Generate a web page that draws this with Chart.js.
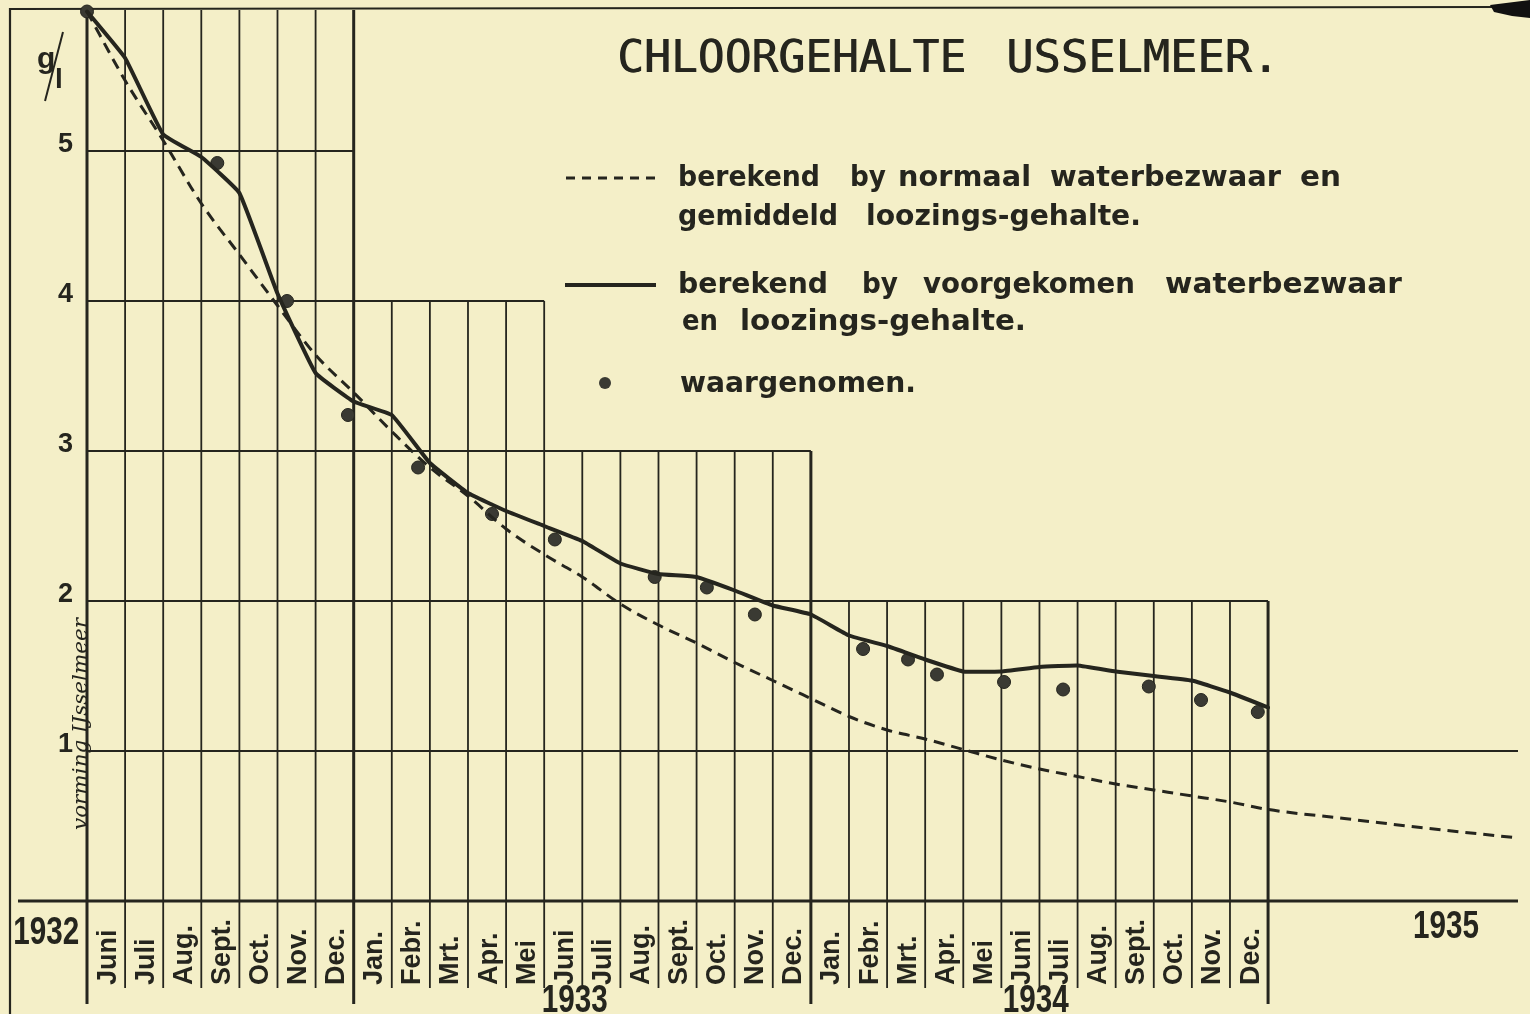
<!DOCTYPE html>
<html>
<head>
<meta charset="utf-8">
<script src="https://cdn.jsdelivr.net/npm/chart.js@4/dist/chart.umd.min.js"></script>
<style>
  html, body { margin: 0; padding: 0; background: #f4efc8; }
  #wrap { width: 1530px; height: 1014px; position: relative; }
  canvas { display: block; }
</style>
</head>
<body>
<div id="wrap"><canvas id="c" width="1530" height="1014"></canvas></div>
<script>
// ---------------- DATA ----------------
const monthLabels = ['Juni','Juli','Aug.','Sept.','Oct.','Nov.','Dec.',
  'Jan.','Febr.','Mrt.','Apr.','Mei','Juni','Juli','Aug.','Sept.','Oct.','Nov.','Dec.',
  'Jan.','Febr.','Mrt.','Apr.','Mei','Juni','Juli','Aug.','Sept.','Oct.','Nov.','Dec.'];
// month columns start at these x-values (0 = begin Juni 1932)
const monthStarts = [0,1,2,3,4,5,6,7,8,9,10,11,12,13,14,15,16,17,18,19,20,21,22,23,24,25,26,27,28,29,30];
const yearLabels = ['1932','1933','1934','1935'];
const yearPositions = [-1.07, 12.8, 24.9, 35.67];
const yTickLabels = ['1','2','3','4','5'];

// berekend by voorgekomen waterbezwaar en loozings-gehalte (solid)
const actualMonths = [0,1,2,3,4,5,6,7,8,9,10,11,12,13,14,15,16,17,18,19,20,21,22,23,24,25,26,27,28,29,30,31];
const actualValues = [5.93,5.62,5.11,4.96,4.72,4.05,3.52,3.33,3.24,2.92,2.72,2.60,2.50,2.40,2.25,2.18,2.16,2.07,1.97,1.91,
  1.77,1.70,1.61,1.53,1.53,1.56,1.57,1.53,1.50,1.47,1.39,1.29];

// berekend by normaal waterbezwaar en gemiddeld loozings-gehalte (dashed)
const normalMonths = [0,1,2,3,4,5,6,7,8,9,10,11,12,13,14,15,16,17,18,19,20,21,22,23,24,25,26,27,28,29,30,31,33,35,37.56];
const normalValues = [5.93,5.47,5.07,4.65,4.31,3.97,3.64,3.39,3.13,2.89,2.70,2.48,2.31,2.16,1.98,1.84,1.72,1.59,1.47,1.35,
  1.23,1.14,1.08,1.01,0.94,0.88,0.83,0.78,0.74,0.70,0.66,0.61,0.55,0.49,0.42];

// waargenomen (dots)
const observedMonths = [0,3.42,5.25,6.85,8.69,10.63,12.28,14.9,16.27,17.53,20.37,21.55,22.31,24.07,25.62,27.87,29.24,30.73];
const observedValues = [5.93,4.92,4.00,3.24,2.89,2.58,2.41,2.16,2.09,1.91,1.68,1.61,1.51,1.46,1.41,1.43,1.34,1.26];

// stepped grid: horizontal level and the month where it ends
const gridLevels = [5,4,3,2,1];
const gridLevelEnds = [7,12,19,31,37.56];
const yearBoundaries = [0,7,19,31];

const legendItems = [
  { kind: 'dash', lines: [
      [['berekend',678,820],['by',850,886],['normaal',898,1031],['waterbezwaar',1050,1281],['en',1300,1341]],
      [['gemiddeld',678,838],['loozings-gehalte.',866,1141]] ] },
  { kind: 'solid', lines: [
      [['berekend',678,828],['by',862,898],['voorgekomen',923,1135],['waterbezwaar',1165,1402]],
      [['en',682,718],['loozings-gehalte.',740,1026]] ] },
  { kind: 'dot', lines: [ [['waargenomen.',680,916]] ] }
];

// ---------------- STYLE ----------------
const INK = '#25251e';
const PAPER = '#f4efc8';
const XMAX = 37.56, YMAX = 5.94;

function fitText(ctx, text, x0, x1, baseline, font) {
  ctx.save();
  ctx.font = font;
  const w = ctx.measureText(text).width;
  const s = (x1 - x0) / w;
  ctx.translate(x0, baseline);
  ctx.scale(s, 1);
  ctx.textAlign = 'left';
  ctx.textBaseline = 'alphabetic';
  ctx.fillText(text, 0, 0);
  ctx.restore();
}

const paperPlugin = {
  id: 'paper',
  beforeDraw(chart) {
    const ctx = chart.ctx;
    ctx.save();
    ctx.fillStyle = PAPER;
    ctx.fillRect(0, 0, chart.width, chart.height);
    ctx.restore();
  },
  beforeDatasetsDraw(chart) {
    const ctx = chart.ctx;
    const xs = chart.scales.x, ys = chart.scales.y;
    const X = v => xs.getPixelForValue(v);
    const Y = v => ys.getPixelForValue(v);
    ctx.save();
    ctx.strokeStyle = INK;
    ctx.lineCap = 'butt';
    // outer frame (scan border)
    ctx.lineWidth = 2.2;
    ctx.beginPath();
    ctx.moveTo(10, 1014); ctx.lineTo(10, 9); ctx.lineTo(1495, 7);
    ctx.stroke();
    ctx.fillStyle = '#111';
    ctx.beginPath();
    ctx.moveTo(1490, 5); ctx.lineTo(1530, 0); ctx.lineTo(1530, 18); ctx.lineTo(1512, 16); ctx.lineTo(1494, 12);
    ctx.closePath(); ctx.fill();

    // horizontal levels
    ctx.lineWidth = 2;
    gridLevels.forEach((lv, i) => {
      ctx.beginPath();
      ctx.moveTo(X(0), Y(lv)); ctx.lineTo(X(gridLevelEnds[i]), Y(lv));
      ctx.stroke();
    });
    // zero line
    ctx.lineWidth = 3;
    ctx.beginPath();
    ctx.moveTo(18, Y(0)); ctx.lineTo(X(XMAX), Y(0));
    ctx.stroke();

    // vertical month boundaries
    for (let k = 0; k <= 31; k++) {
      let top = YMAX;
      for (let i = 1; i < gridLevels.length; i++) {
        if (k > gridLevelEnds[i - 1] && k <= gridLevelEnds[i]) { top = gridLevels[i]; break; }
      }
      const isYear = yearBoundaries.includes(k);
      ctx.lineWidth = isYear ? 3 : 1.8;
      ctx.beginPath();
      ctx.moveTo(X(k), Y(top));
      ctx.lineTo(X(k), isYear ? 1004 : 988);
      ctx.stroke();
    }
    ctx.restore();
  },
  afterDraw(chart) {
    const ctx = chart.ctx;
    const xs = chart.scales.x;
    ctx.save();
    ctx.fillStyle = INK;
    ctx.strokeStyle = INK;

    // title
    fitText(ctx, 'CHLOORGEHALTE', 617, 966, 72, '44px "DejaVu Sans Mono"');
    fitText(ctx, 'USSELMEER.', 1006, 1279, 72, '44px "DejaVu Sans Mono"');
    // second pass slightly offset to thicken strokes like the lettering pen
    fitText(ctx, 'CHLOORGEHALTE', 617.8, 966.8, 72, '44px "DejaVu Sans Mono"');
    fitText(ctx, 'USSELMEER.', 1006.8, 1279.8, 72, '44px "DejaVu Sans Mono"');

    // legend
    const baselines = [[186, 225], [293, 330], [392]];
    legendItems.forEach((item, idx) => {
      item.lines.forEach((ln, li) => {
        ln.forEach(([w, a, b]) => fitText(ctx, w, a, b, baselines[idx][li], 'bold 29px "DejaVu Sans"'));
      });
    });
    // legend symbols
    ctx.lineWidth = 3;
    ctx.setLineDash([9, 7]);
    ctx.beginPath(); ctx.moveTo(566, 178); ctx.lineTo(656, 178); ctx.stroke();
    ctx.setLineDash([]);
    ctx.lineWidth = 4;
    ctx.beginPath(); ctx.moveTo(565, 285); ctx.lineTo(656, 285); ctx.stroke();
    ctx.fillStyle = '#3a3a33';
    ctx.beginPath(); ctx.arc(605, 383, 6, 0, Math.PI * 2); ctx.fill();
    ctx.fillStyle = INK;

    // month labels (rotated, reading upward)
    ctx.font = 'bold 27px "Liberation Sans"';
    ctx.textAlign = 'left';
    ctx.textBaseline = 'alphabetic';
    monthLabels.forEach((lab, i) => {
      const x = xs.getPixelForValue(monthStarts[i] + 0.5);
      ctx.save();
      ctx.translate(x + 9.5, 985);
      ctx.rotate(-Math.PI / 2);
      ctx.fillText(lab, 0, 0);
      ctx.restore();
    });

    // year labels
    const yearY = [944, 1012, 1012, 938];
    yearLabels.forEach((lab, i) => {
      const x = xs.getPixelForValue(yearPositions[i]);
      ctx.save();
      ctx.font = 'bold 38px "Liberation Sans"';
      const w = ctx.measureText(lab).width;
      ctx.translate(x, yearY[i]);
      ctx.scale(0.78, 1);
      ctx.fillText(lab, -w / 2, 0);
      ctx.restore();
    });

    // g/l unit
    ctx.font = 'bold 30px "Liberation Sans"';
    ctx.fillText('g', 37, 68);
    ctx.font = 'bold 28px "Liberation Sans"';
    ctx.fillText('l', 55, 88);
    ctx.lineWidth = 2;
    ctx.beginPath(); ctx.moveTo(45, 101); ctx.lineTo(63, 32); ctx.stroke();

    // vertical handwritten note
    ctx.save();
    ctx.font = 'italic 20px "DejaVu Serif"';
    const note = 'vorming IJsselmeer';
    const nw = ctx.measureText(note).width;
    ctx.translate(87, 830);
    ctx.rotate(-Math.PI / 2);
    ctx.scale(212 / nw, 1);
    ctx.fillText(note, 0, 0);
    ctx.restore();

    ctx.restore();
  }
};

const pts = (xsArr, ysArr) => xsArr.map((m, i) => ({ x: m, y: ysArr[i] }));

new Chart(document.getElementById('c').getContext('2d'), {
  type: 'line',
  data: {
    datasets: [
      {
        label: 'berekend by normaal waterbezwaar en gemiddeld loozings-gehalte.',
        data: pts(normalMonths, normalValues),
        borderColor: INK, borderWidth: 3, borderDash: [11, 7],
        pointRadius: 0, cubicInterpolationMode: 'monotone', clip: false
      },
      {
        label: 'berekend by voorgekomen waterbezwaar en loozings-gehalte.',
        data: pts(actualMonths, actualValues),
        borderColor: INK, borderWidth: 4, borderJoinStyle: 'round', borderCapStyle: 'round',
        pointRadius: 0, tension: 0.1, clip: false
      },
      {
        type: 'scatter',
        label: 'waargenomen.',
        data: pts(observedMonths, observedValues),
        showLine: false, pointRadius: 6.5, pointBackgroundColor: '#3a3a33',
        pointBorderColor: INK, pointBorderWidth: 1, clip: false
      }
    ]
  },
  options: {
    responsive: false,
    animation: false,
    layout: { padding: { left: 10, right: 12, top: 10, bottom: 0 } },
    plugins: { legend: { display: false }, tooltip: { enabled: false }, title: { display: false } },
    scales: {
      x: {
        type: 'linear', min: 0, max: XMAX,
        grid: { display: false }, border: { display: false },
        ticks: { display: false },
        afterFit(s) { s.height = 113; s.paddingLeft = 0; s.paddingRight = 0; }
      },
      y: {
        type: 'linear', min: 0, max: YMAX,
        grid: { display: false, drawTicks: false }, border: { display: false },
        ticks: {
          stepSize: 1, includeBounds: false, padding: 14, labelOffset: -6, color: INK,
          font: { family: 'Liberation Sans', weight: 'bold', size: 27 },
          callback: v => yTickLabels.includes(String(v)) ? String(v) : ''
        },
        afterFit(s) { s.width = 77; s.paddingTop = 0; s.paddingBottom = 0; }
      }
    }
  },
  plugins: [paperPlugin]
});
</script>
</body>
</html>
